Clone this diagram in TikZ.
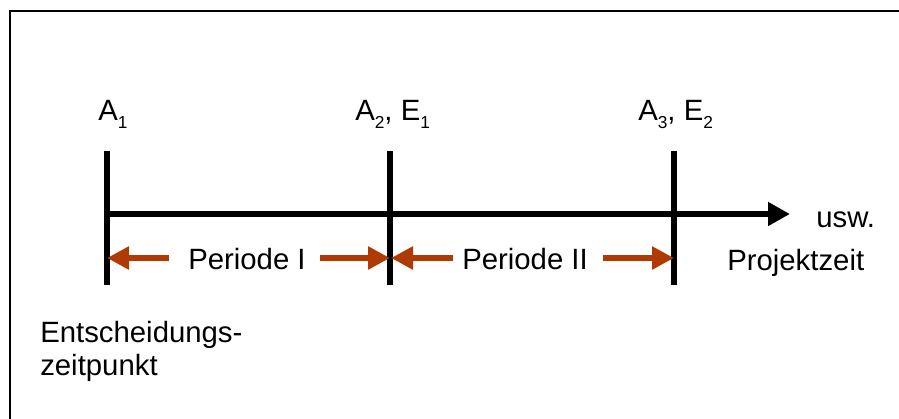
\documentclass[tikz,border=0pt]{standalone}
\usepackage{fontspec}
\setmainfont{Liberation Sans}
\usetikzlibrary{arrows.meta}
\definecolor{arrowred}{RGB}{176,58,4}
\newcommand{\lowsub}[1]{{\fontsize{13}{14}\selectfont\raisebox{-6pt}{#1}}}
\tikzset{
  lbl/.style={anchor=base west, inner sep=0pt, font=\fontsize{22}{25}\selectfont},
  tick/.style={line width=5pt, black},
  axis/.style={line width=5pt, black, -{Triangle[length=16.5pt,width=17pt]}},
  period/.style={line width=4.5pt, arrowred, -{Triangle[length=16.5pt,width=16.5pt]}, shorten >=0pt},
  frame/.style={line width=1.2pt, black}
}
\begin{document}
\begin{tikzpicture}[x=0.75pt,y=-0.75pt]
\useasboundingbox (0,0) rectangle (899,418);
% frame (only top and left edges are visible)
\coordinate (fbl) at (10,430);
\coordinate (ftl) at (10,11);
\coordinate (ftr) at (910,11);
\draw[frame] (fbl) -- (ftl) -- (ftr);
% tick coordinates
\coordinate (t1a) at (107,151);
\coordinate (t1b) at (107,285);
\coordinate (t2a) at (390,151);
\coordinate (t2b) at (390,285);
\coordinate (t3a) at (674,151);
\coordinate (t3b) at (674,285);
\draw[tick] (t1a) -- (t1b);
\draw[tick] (t2a) -- (t2b);
\draw[tick] (t3a) -- (t3b);
% axis
\coordinate (ax0) at (105,214);
\coordinate (ax1) at (790,214);
\draw[axis] (ax0) -- (ax1);
% period arrows
\coordinate (p1s) at (169,258);
\coordinate (p1l) at (107,258);
\coordinate (p1t) at (320,258);
\coordinate (p1r) at (390,258);
\coordinate (p2s) at (453,258);
\coordinate (p2l) at (391,258);
\coordinate (p2t) at (603,258);
\coordinate (p2r) at (674,258);
\draw[period] (p1s) -- (p1l);
\draw[period] (p1t) -- (p1r);
\draw[period] (p2s) -- (p2l);
\draw[period] (p2t) -- (p2r);
% labels
\node[lbl] (la1) at (98,120) {A\lowsub{1}};
\node[lbl] (la2) at (355,120) {A\lowsub{2}, E\lowsub{1}};
\node[lbl] (la3) at (638,120) {A\lowsub{3}, E\lowsub{2}};
\node[lbl] (per1) at (188,269) {Periode I};
\node[lbl] (per2) at (462,269) {Periode II};
\node[lbl] (usw) at (816,227) {usw.};
\node[lbl] (proj) at (727,270) {Projektzeit};
\node[lbl] (ent1) at (40,342) {Entscheidungs-};
\node[lbl] (ent2) at (40,375) {zeitpunkt};
\end{tikzpicture}
\end{document}
